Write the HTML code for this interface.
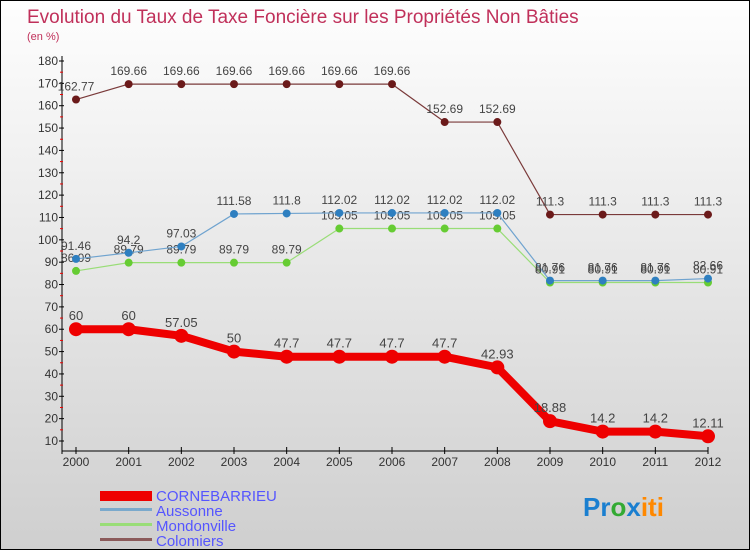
<!DOCTYPE html>
<html><head><meta charset="utf-8"><style>
html,body{margin:0;padding:0;}
body{width:750px;height:550px;overflow:hidden;font-family:"Liberation Sans",sans-serif;}
#c{position:absolute;left:0;top:0;width:748px;height:548px;border:1px solid #000;background:linear-gradient(#fefefe,#cfcfcf);}
</style></head><body>
<div id="c">
<svg id="s" width="748" height="548" xmlns="http://www.w3.org/2000/svg">
<text x="26" y="22" font-size="19" fill="#c0305a">Evolution du Taux de Taxe Foncière sur les Propriétés Non Bâties</text>
<text x="26" y="39" font-size="11" fill="#c0305a">(en %)</text>
<g id="axes"></g>
<g id="series"></g>
<g id="legend" font-size="15" fill="#5555ff">
<rect x="99" y="490" width="52" height="10" fill="#e00"/>
<text x="155" y="500">CORNEBARRIEU</text>
<rect x="99" y="507" width="52" height="3" fill="#7aa9cc"/>
<text x="155" y="515">Aussonne</text>
<rect x="99" y="522" width="52" height="3" fill="#99dd77"/>
<text x="155" y="530">Mondonville</text>
<rect x="99" y="537" width="52" height="3" fill="#8b5a5a"/>
<text x="155" y="545">Colomiers</text>
</g>
<g font-size="26" font-weight="bold">
<text x="582" y="515"><tspan fill="#1a7fd0">Pr</tspan><tspan fill="#3a3">o</tspan><tspan fill="#1a7fd0">x</tspan><tspan fill="#f80">iti</tspan></text>
</g>
</svg></div>
<script>
const years=[2000,2001,2002,2003,2004,2005,2006,2007,2008,2009,2010,2011,2012];
const yTicks=[10,20,30,40,50,60,70,80,90,100,110,120,130,140,150,160,170,180];
const corne=[60,60,57.05,50,47.7,47.7,47.7,47.7,42.93,18.88,14.2,14.2,12.11];
const aussonne=[91.46,94.2,97.03,111.58,111.8,112.02,112.02,112.02,112.02,81.76,81.76,81.76,82.66];
const mondon=[86.09,89.79,89.79,89.79,89.79,105.05,105.05,105.05,105.05,80.91,80.91,80.91,80.91];
const colom=[162.77,169.66,169.66,169.66,169.66,169.66,169.66,152.69,152.69,111.3,111.3,111.3,111.3];
const NS='http://www.w3.org/2000/svg';
const X=i=>75+i*(632/12);
const Y=v=>440-(v-10)*(380/170);
function mk(t,a,p){const e=document.createElementNS(NS,t);for(const k in a)e.setAttribute(k,a[k]);p.appendChild(e);return e;}
const ax=document.getElementById('axes'),sg=document.getElementById('series');
let e=mk('line',{x1:61,y1:55,x2:61,y2:453,stroke:'#000'},ax);


e=mk('line',{x1:61,y1:450,x2:707,y2:450,stroke:'#000'},ax);


yTicks.forEach(v=>{
 mk('line',{x1:58,y1:Y(v),x2:63,y2:Y(v),stroke:'#000'},ax);
 if(v<180)mk('line',{x1:59,y1:Y(v+5),x2:62,y2:Y(v+5),stroke:'#e00'},ax);
 const t=mk('text',{x:57,y:Y(v)+4,'font-size':12,fill:'#333','text-anchor':'end'},ax);t.textContent=v;
 
 
});
years.forEach((yr,i)=>{
 mk('line',{x1:X(i),y1:446,x2:X(i),y2:453,stroke:'#000'},ax);
 const t=mk('text',{x:X(i),y:465,'font-size':12,fill:'#333','text-anchor':'middle'},ax);t.textContent=yr;
 
 
});
function series(d,col,dot,w,r,name,fs){
 const g=mk('g',{},sg);
 
 
 mk('polyline',{points:d.map((v,i)=>X(i)+','+Y(v)).join(' '),fill:'none',stroke:col,'stroke-width':w,'stroke-linejoin':'round'},g);
 d.forEach((v,i)=>{
  const c=mk('circle',{cx:X(i),cy:Y(v),r:r,fill:dot},g);
  
  
  const t=mk('text',{x:X(i),y:Y(v)-9,'font-size':fs,fill:'#444','text-anchor':'middle'},g);t.textContent=v;
 });
}
series(colom,'#7a3a3a','#6b1a1a',1.2,4,'colomiers',12);
series(mondon,'#99dd77','#66cc33',1.2,4,'mondonville',12);
series(aussonne,'#6fa3cf','#2e7fc0',1.2,4,'aussonne',12);
series(corne,'#ee0000','#ee0000',8,7,'cornebarrieu',13);
</script>
</body></html>
